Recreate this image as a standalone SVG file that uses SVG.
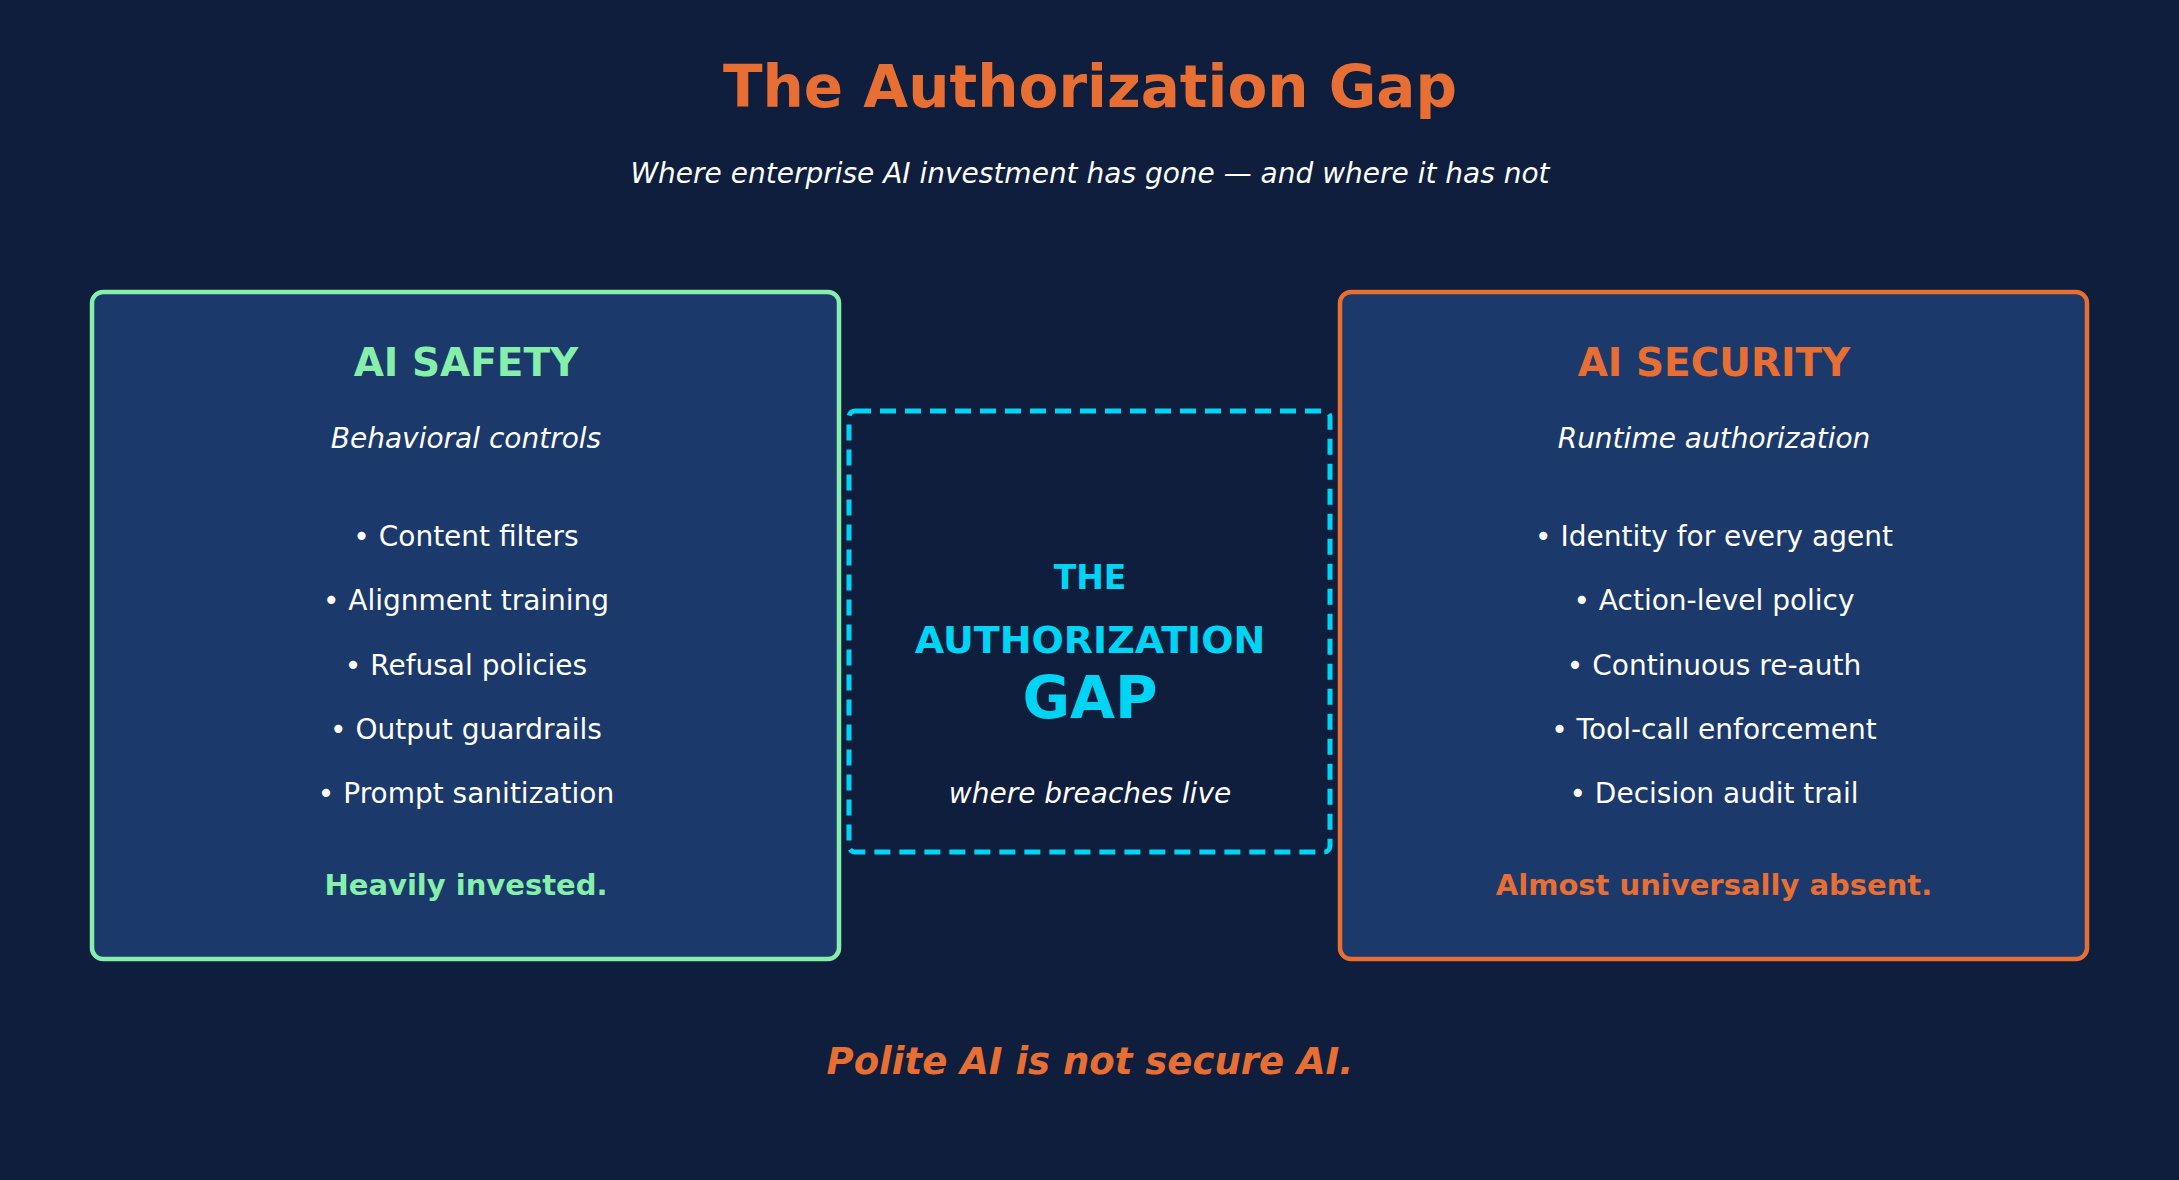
<svg xmlns="http://www.w3.org/2000/svg" width="2179" height="1180" viewBox="0 0 2179 1180">
<style>
text{font-family:"DejaVu Sans",sans-serif;text-anchor:middle}
.w{fill:#ffffff;font-size:28px}
.i{font-style:italic}
.b{font-weight:bold}
.g{fill:#86efac}
.o{fill:#e86f33}
.c{fill:#00d4f5;font-weight:bold}
</style>
<rect width="2179" height="1180" fill="#0e1e3c"/>
<text x="1090" y="107" class="o b" font-size="58">The Authorization Gap</text>
<text x="1090" y="183" class="w i" font-size="28">Where enterprise AI investment has gone — and where it has not</text>
<g id="safety">
<rect x="92" y="292" width="747" height="667" rx="11" fill="#1c396b" stroke="#86efac" stroke-width="4.5"/>
<text x="466" y="376" class="g b" font-size="39">AI SAFETY</text>
<text x="466" y="448" class="w i" font-size="27">Behavioral controls</text>
<text x="466" y="546" class="w">• Content filters</text>
<text x="466" y="610" class="w">• Alignment training</text>
<text x="466" y="675" class="w">• Refusal policies</text>
<text x="466" y="739" class="w">• Output guardrails</text>
<text x="466" y="803" class="w">• Prompt sanitization</text>
<text x="466" y="895" class="g b" font-size="29">Heavily invested.</text>
</g>
<g id="gap">
<rect x="849" y="411" width="481" height="441" rx="6" fill="none" stroke="#00d4f5" stroke-width="5" stroke-dasharray="16 9"/>
<text x="1090" y="589" class="c" font-size="33">THE</text>
<text x="1090" y="653" class="c" font-size="38">AUTHORIZATION</text>
<text x="1090" y="718" class="c" font-size="58">GAP</text>
<text x="1090" y="803" class="w i" font-size="26">where breaches live</text>
</g>
<g id="security">
<rect x="1340" y="292" width="747" height="667" rx="11" fill="#1c396b" stroke="#e86f33" stroke-width="4.5"/>
<text x="1714" y="376" class="o b" font-size="39">AI SECURITY</text>
<text x="1714" y="448" class="w i" font-size="27">Runtime authorization</text>
<text x="1714" y="546" class="w">• Identity for every agent</text>
<text x="1714" y="610" class="w">• Action-level policy</text>
<text x="1714" y="675" class="w">• Continuous re-auth</text>
<text x="1714" y="739" class="w">• Tool-call enforcement</text>
<text x="1714" y="803" class="w">• Decision audit trail</text>
<text x="1714" y="895" class="o b" font-size="29">Almost universally absent.</text>
</g>
<g id="connectors"/>
<text x="1090" y="1074" class="o b i" font-size="37">Polite AI is not secure AI.</text>
</svg>
